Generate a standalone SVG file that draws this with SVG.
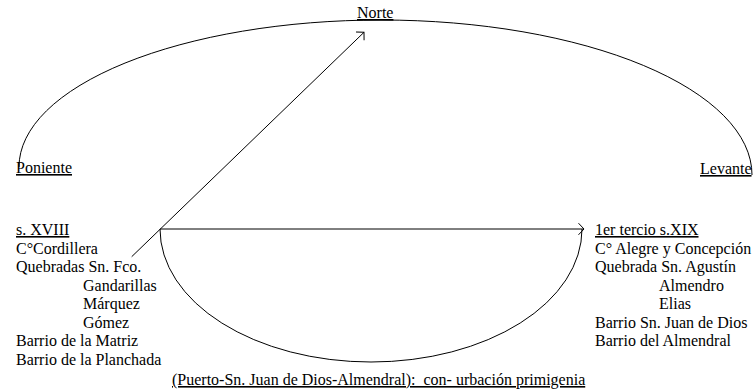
<svg xmlns="http://www.w3.org/2000/svg" width="754" height="391" viewBox="0 0 754 391">
<style>
.c{fill:none;stroke:#000;stroke-width:1}
</style>
<defs>
<marker id="ah" markerUnits="userSpaceOnUse" markerWidth="20" markerHeight="20" refX="0" refY="0" viewBox="-10 -10 20 20" orient="auto">
<path d="M-5.5,-5.8 L0,0 L-5.5,5.8" fill="none" stroke="#000" stroke-width="1"/>
</marker>
</defs>
<rect width="754" height="391" fill="#fff"/>
<g id="connectors">
<path class="c" d="M19,167 A362,147 0 0 1 381,20 A371,155 0 0 1 752,175"/>
<path class="c" d="M131.7,256.7 L364,32.3" marker-end="url(#ah)"/>
<path class="c" d="M160,229 L584,229" marker-end="url(#ah)"/>
<path class="c" d="M160,229 A211,133 0 0 0 582,229"/>
</g>
<g font-family="Liberation Serif, DejaVu Serif, serif" font-size="16" fill="#000">
<g id="norte"><text x="357" y="18" text-decoration="underline">Norte</text></g>
<g id="poniente"><text x="16" y="173" text-decoration="underline">Poniente</text></g>
<g id="levante"><text x="700" y="174" text-decoration="underline">Levante</text></g>
<g id="sxviii">
<text x="16" y="235" text-decoration="underline">s. XVIII</text>
<text x="16" y="253.5">C°Cordillera</text>
<text x="16" y="272">Quebradas Sn. Fco.</text>
<text x="83" y="290.5">Gandarillas</text>
<text x="83" y="309">Márquez</text>
<text x="83" y="327.5">Gómez</text>
<text x="16" y="346">Barrio de la Matriz</text>
<text x="16" y="364.5">Barrio de la Planchada</text>
</g>
<g id="sxix">
<text x="595" y="235" text-decoration="underline">1er tercio s.XIX</text>
<text x="595" y="253.5">C° Alegre y Concepción</text>
<text x="595" y="272">Quebrada Sn. Agustín</text>
<text x="659" y="290.5">Almendro</text>
<text x="659" y="309">Elias</text>
<text x="595" y="327.5">Barrio Sn. Juan de Dios</text>
<text x="595" y="346">Barrio del Almendral</text>
</g>
<g id="urbacion"><text x="172" y="385" text-decoration="underline">(Puerto-Sn. Juan de Dios-Almendral):&#160; con- urbación primigenia</text></g>
</g>
</svg>
